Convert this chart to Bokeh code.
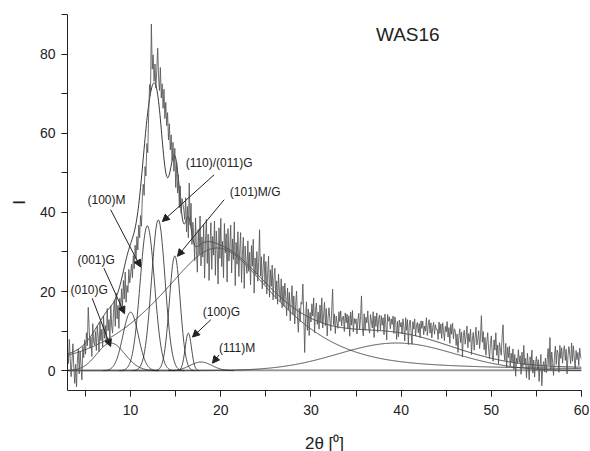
import numpy as np
from bokeh.plotting import figure
from bokeh.models import (SingleIntervalTicker, Arrow, NormalHead, ColumnDataSource,
                          Label)
from bokeh.core.properties import value
from bokeh.embed import file_html
from bokeh.resources import INLINE

# ---- measured pattern (2theta from 3.0 to 60.0, step 0.1) ----
two_theta_start = 3.0
two_theta_step = 0.1
intensity = [
    5.2, 1.8, 7.9, 3.1, -1.5, 2.4, 6.8, 0.9, -3.2, 1.6,
    -4.1, 2.7, 5.5, -0.8, 4.9, 1.2, -2.3, 6.1, 3.3, 7.8,
    4.2, 9.6, 6.3, 16.0, 10.8, 5.7, 8.4, 3.6, 11.9, 7.2,
    6.5, 9.9, 5.1, 11.2, 8.7, 4.8, 12.3, 7.6, 10.5, 6.0,
    13.8, 8.2, 11.4, 6.9, 15.7, 10.1, 12.9, 7.8, 16.4, 11.3,
    9.5, 14.8, 17.9, 11.2, 19.6, 13.1, 16.5, 10.7, 18.3, 15.4,
    20.7, 16.2, 22.8, 18.1, 24.9, 17.3, 21.5, 19.8, 25.6, 22.2,
    24.4, 26.9, 23.5, 29.1, 25.8, 31.7, 28.2, 33.9, 30.5, 36.8,
    33.6, 39.2, 36.5, 43.8, 47.1, 44.3, 51.6, 49.2, 57.4, 55.1,
    64.8, 72.3, 69.5, 87.6, 76.2, 79.8, 73.1, 77.5, 71.4, 75.9,
    81.5, 74.2, 70.8, 76.6, 68.9, 72.5, 66.3, 71.1, 63.7, 67.8,
    61.9, 65.2, 58.3, 62.4, 55.8, 59.6, 53.1, 57.7, 50.4, 56.2,
    46.3, 52.8, 44.9, 49.5, 41.2, 46.7, 39.8, 43.5, 42.1, 40.6,
    38.2, 43.7, 35.1, 41.5, 33.6, 47.4, 36.8, 42.3, 31.9, 37.5,
    34.2, 27.8, 38.6, 30.4, 24.9, 35.7, 29.3, 39.1, 26.5, 33.8,
    28.7, 36.9, 23.4, 32.6, 38.2, 27.1, 34.5, 22.8, 31.3, 37.4,
    25.6, 33.9, 29.2, 37.8, 24.1, 35.3, 30.7, 21.9, 36.1, 28.4,
    38.5, 26.3, 32.7, 23.5, 37.2, 29.8, 34.6, 22.4, 35.9, 27.7,
    31.2, 36.8, 24.7, 33.3, 28.1, 37.6, 21.5, 32.4, 26.9, 35.1,
    23.8, 30.6, 34.9, 22.3, 29.4, 33.7, 20.8, 31.5, 27.2, 24.6,
    32.8, 25.1, 29.9, 21.7, 31.6, 26.4, 33.2, 19.6, 28.5, 24.3,
    30.1, 22.6, 27.4, 35.6, 23.9, 28.8, 20.7, 26.3, 29.5, 21.8,
    27.6, 19.4, 24.8, 28.9, 18.6, 25.5, 21.3, 26.7, 17.9, 23.6,
    25.9, 18.2, 22.7, 16.8, 24.4, 20.1, 17.5, 23.2, 15.9, 21.4,
    16.3, 22.1, 18.7, 13.9, 20.9, 15.4, 19.8, 12.6, 17.6, 21.5,
    14.2, 18.9, 11.8, 16.7, 20.1, 13.5, 9.7, 15.8, 12.4, 17.3,
    16.8, 21.9, 14.3, 4.6, 13.1, 17.4, 10.2, 15.6, 8.9, 14.7,
    12.3, 16.9, 13.8, 18.4, 9.6, 15.2, 17.1, 11.7, 14.8, 10.5,
    16.6, 12.2, 18.4, 10.8, 14.1, 17.3, 11.4, 15.7, 8.8, 13.6,
    15.9, 12.8, 10.1, 15.4, 20.6, 11.6, 14.3, 9.4, 13.8, 12.1,
    10.7, 14.9, 12.4, 15.1, 11.3, 13.4, 13.8, 9.9, 14.6, 12.1,
    14.3, 10.6, 13.9, 8.7, 14.8, 11.5, 15.2, 9.8, 13.2, 11.9,
    13.1, 9.3, 12.7, 14.5, 10.4, 13.6, 18.9, 11.1, 8.8, 14.4,
    10.2, 13.5, 12.1, 15.1, 11.0, 9.5, 14.2, 12.6, 10.8, 14.9,
    8.4, 13.8, 11.2, 14.6, 9.7, 12.9, 14.1, 10.3, 13.9, 11.5,
    13.4, 9.1, 14.3, 11.9, 7.8, 14.2, 12.5, 13.6, 10.6, 13.1,
    11.7, 13.8, 9.4, 13.6, 12.2, 7.9, 12.5, 8.6, 12.8, 11.1,
    12.2, 9.3, 13.1, 11.1, 7.5, 13.4, 10.2, 12.9, 6.6, 11.6,
    12.8, 9.9, 6.7, 12.4, 10.5, 13.1, 8.8, 11.3, 12.2, 9.6,
    11.9, 8.4, 12.6, 10.7, 12.5, 9.1, 11.3, 10.0, 13.4, 8.9,
    11.4, 12.9, 9.5, 12.1, 8.3, 10.8, 12.2, 9.2, 11.6, 10.4,
    10.5, 7.9, 12.3, 9.4, 11.8, 8.2, 12.1, 10.1, 7.6, 11.2,
    9.8, 12.4, 8.5, 10.9, 6.9, 11.7, 9.2, 12.0, 8.0, 10.6,
    10.1, 6.4, 9.3, 4.6, 8.5, 10.6, 7.1, 9.8, 3.5, 8.9,
    10.2, 6.7, 8.6, 11.3, 5.8, 9.4, 7.3, 10.5, 4.1, 8.0,
    9.7, 5.2, 8.4, 11.0, 6.5, 7.8, 10.1, 5.6, 8.7, 13.9,
    7.2, 9.9, 5.3, 8.4, 3.9, 7.3, 9.6, 5.5, 3.1, 6.9,
    8.8, 4.1, 2.4, 7.8, 5.2, 9.6, 3.9, 6.5, 1.7, 7.1,
    5.5, 3.9, 8.8, 11.6, 4.7, 2.6, 6.9, 0.8, 5.9, 3.3,
    6.2, 1.1, 4.4, 2.2, 5.5, 0.3, 4.1, -1.4, 3.2, 1.9,
    5.3, 2.1, 3.8, -0.9, 4.7, 1.0, 6.4, 1.5, 3.1, -1.8,
    4.4, 1.6, -2.3, 3.5, 0.8, 5.2, -0.6, 2.7, -1.6, 1.9,
    3.6, 0.2, 2.8, -2.7, 1.4, 4.1, -3.8, 0.9, 2.3, -0.3,
    3.2, -0.5, 2.8, 5.6, 1.4, 8.4, 0.3, 4.7, 2.1, -1.2,
    3.5, 6.2, 1.6, 5.2, 4.4, -0.4, 6.4, 3.1, 5.8, 1.9,
    4.9, 6.3, 2.6, 5.4, -0.8, 3.7, 6.1, 4.1, 1.8, 7.0,
    2.4, 6.3, 3.2, 0.5, 5.1, 2.8, 4.6, 1.3, 5.7, 3.6,
    2.9,
]

# ---- fitted crystalline peaks (Gaussian) ----
peak_names = ["(010)G", "(001)G", "(100)M", "(110)/(011)G", "(101)M/G", "(100)G", "(111)M"]
peak_centers = [7.8, 10.0, 11.85, 13.07, 14.9, 16.4, 17.8]
peak_heights = [7.0, 14.8, 36.6, 38.1, 29.0, 9.5, 2.2]
peak_sigmas = [1.55, 0.85, 0.8, 0.75, 0.6, 0.35, 1.2]

# ---- amorphous halo (pseudo-Voigt) and broad halo (Gaussian) ----
halo_center, halo_height, halo_gamma, halo_sigma, halo_eta = 19.6, 31.0, 7.0, 7.5, 0.6
broad_center, broad_height, broad_sigma = 39.5, 7.0, 6.5
baseline_level = 0.3

# ---- annotations ----
label_texts = ["(010)G", "(001)G", "(100)M", "(110)/(011)G", "(101)M/G", "(100)G", "(111)M"]
label_x = [3.33, 4.11, 5.22, 16.1, 21.0, 18.0, 19.8]
label_y = [20.5, 28.0, 43.2, 52.5, 45.2, 14.8, 5.8]
arrow_x0 = [5.74, 7.04, 7.78, 19.26, 20.37, 18.9, 19.81]
arrow_y0 = [18.3, 25.9, 40.7, 49.5, 43.2, 12.9, 4.0]
arrow_x1 = [7.78, 9.33, 11.1, 13.52, 15.19, 16.86, 19.07]
arrow_y1 = [6.1, 14.4, 26.2, 37.7, 28.9, 8.5, 1.9]

assert len(intensity) == 571
x_data = np.round(two_theta_start + two_theta_step * np.arange(len(intensity)), 2)

xg = np.linspace(3, 60, 1141)
def gauss(x, c, h, s):
    return h * np.exp(-(x - c) ** 2 / (2 * s * s))

components = [gauss(xg, c, h, s) for c, h, s in zip(peak_centers, peak_heights, peak_sigmas)]
halo = halo_height * (halo_eta / (1 + ((xg - halo_center) / halo_gamma) ** 2)
                      + (1 - halo_eta) * np.exp(-(xg - halo_center) ** 2 / (2 * halo_sigma ** 2)))
broad = gauss(xg, broad_center, broad_height, broad_sigma)
total = baseline_level + halo + broad + np.sum(components, axis=0)

INK = "#222222"
FONT = "Liberation Sans"

p = figure(frame_width=514, frame_height=376, x_range=(3, 60), y_range=(-5, 90),
           output_backend="svg", toolbar_location=None,
           min_border_left=67, min_border_right=9, min_border_top=14, min_border_bottom=50)
p.outline_line_color = None
p.xgrid.visible = False
p.ygrid.visible = False
p.background_fill_color = "white"
p.border_fill_color = "white"

p.xaxis.ticker = SingleIntervalTicker(interval=10, num_minor_ticks=2)
p.yaxis.ticker = SingleIntervalTicker(interval=20, num_minor_ticks=2)
for ax in (p.xaxis[0], p.yaxis[0]):
    ax.axis_line_color = INK
    ax.major_tick_line_color = INK
    ax.minor_tick_line_color = INK
    ax.major_tick_in = 0
    ax.minor_tick_in = 0
    ax.major_tick_out = 6
    ax.minor_tick_out = 6
    ax.major_label_text_font = FONT
    ax.major_label_text_font_size = "14px"
    ax.major_label_text_color = INK
    ax.axis_label_text_font = FONT
    ax.axis_label_text_font_style = "normal"
    ax.axis_label_text_font_size = "17px"
    ax.axis_label_text_color = INK
p.xaxis.major_label_standoff = 8
p.yaxis.major_label_standoff = 6
p.xaxis.axis_label = "2\u03b8 [\u2070]"
p.yaxis.axis_label = "I"
p.xaxis.axis_label_standoff = 16
p.yaxis.axis_label_standoff = 8

# baselines
p.line([3, 60], [0, 0], line_color=INK, line_width=0.6)
p.line([3, 60], [baseline_level, baseline_level], line_color="#777777", line_width=0.5)

# component curves (drawn where they rise above the baseline)
for comp in components:
    c = np.where(comp > 0.02, comp, np.nan)
    p.line(xg, c, line_color=INK, line_width=0.8)
p.line(xg, halo, line_color=INK, line_width=0.8)
p.line(xg, broad, line_color=INK, line_width=0.8)

# fit sum
p.line(xg, total, line_color=INK, line_width=0.9)

# measured data
p.line(x_data, intensity, line_color="#555555", line_width=0.85)

# arrows
asrc = ColumnDataSource(dict(x0=arrow_x0, y0=arrow_y0, x1=arrow_x1, y1=arrow_y1))
p.add_layout(Arrow(source=asrc, x_start="x0", y_start="y0", x_end="x1", y_end="y1",
                   line_color=INK, line_width=1,
                   end=NormalHead(size=7, fill_color=INK, line_color=INK, line_width=1)))

lsrc = ColumnDataSource(dict(x=label_x, y=label_y, t=label_texts))
p.text(x="x", y="y", text="t", source=lsrc, text_font=value(FONT), text_font_size="12px",
       text_color=INK, text_align="left", text_baseline="middle")

p.add_layout(Label(x=37.2, y=85.0, text="WAS16", text_font=FONT, text_font_size="19px",
                   text_color=INK, text_align="left", text_baseline="middle"))

open("out.html", "w").write(file_html(p, INLINE))
